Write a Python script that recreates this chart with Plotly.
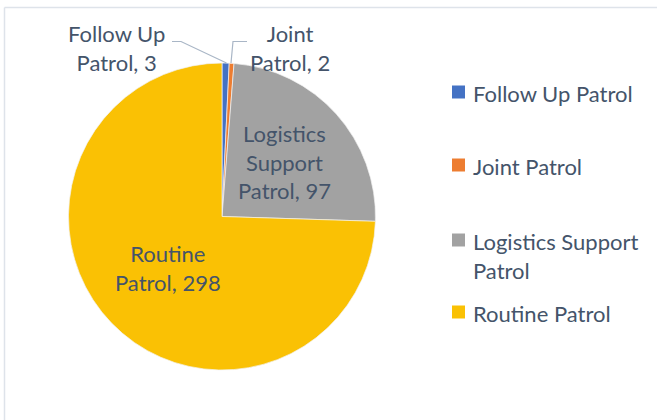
import plotly.graph_objects as go

categories = ["Follow Up Patrol", "Joint Patrol", "Logistics Support Patrol", "Routine Patrol"]
values = [3, 2, 97, 298]
colors = ["#4472C4", "#ED7D31", "#A2A2A2", "#FAC104"]
label_text = ["Follow Up<br>Patrol, 3", "Joint<br>Patrol, 2",
              "Logistics<br>Support<br>Patrol, 97", "Routine<br>Patrol, 298"]
legend_text = ["Follow Up Patrol", "Joint Patrol", "Logistics Support<br>Patrol", "Routine Patrol"]

W, H = 657, 420
def px(x):
    return x / W
def py(y):
    return 1 - y / H

TXT = "#44546A"
FONT = "Lato, Open Sans, sans-serif"
FS = 22

cx, cy, r = 222, 216.5, 153.5

fig = go.Figure(go.Pie(
    labels=categories, values=values, sort=False, direction="clockwise",
    rotation=0, marker=dict(colors=colors, line=dict(color="#F2F2F2", width=0.7)),
    textinfo="none", hoverinfo="label+value", showlegend=False,
    domain=dict(x=[px(cx - r), px(cx + r)], y=[py(cy + r), py(cy - r)]),
))

annotations = []
# data label positions (label layout, px)
label_pos = [(116, 48), (290, 48), (284, 162), (168, 268)]
for t, (x, y) in zip(label_text, label_pos):
    annotations.append(dict(x=px(x), y=py(y), xref="paper", yref="paper", text=t,
                            showarrow=False, xanchor="center", yanchor="middle",
                            font=dict(family=FONT, size=FS, color=TXT), align="center"))

shapes = []
lc = "#A9B6C6"
# leader lines
shapes.append(dict(type="path", xref="paper", yref="paper",
                   path=f"M {px(172)} {py(41.5)} L {px(181)} {py(41.5)} L {px(226.5)} {py(63)}",
                   line=dict(color=lc, width=1.2)))
shapes.append(dict(type="path", xref="paper", yref="paper",
                   path=f"M {px(231)} {py(63)} L {px(233)} {py(41.5)} L {px(247)} {py(41.5)}",
                   line=dict(color=lc, width=1.2)))
# chart border (top and left)
shapes.append(dict(type="line", xref="paper", yref="paper", x0=px(4.5), x1=px(657), y0=py(7.5), y1=py(7.5),
                   line=dict(color="#DEE3EA", width=1.5)))
shapes.append(dict(type="line", xref="paper", yref="paper", x0=px(4.5), x1=px(4.5), y0=py(7.5), y1=py(420),
                   line=dict(color="#DEE3EA", width=1.5)))

# legend
leg_y = [92, 165, 240, 312]
for c, t, y in zip(colors, legend_text, leg_y):
    shapes.append(dict(type="rect", xref="paper", yref="paper",
                       x0=px(452), x1=px(465), y0=py(y + 6.5), y1=py(y - 6.5),
                       fillcolor=c, line=dict(width=0)))
    annotations.append(dict(x=px(471), y=py(y - 14.5), xref="paper", yref="paper", text=t,
                            showarrow=False, xanchor="left", yanchor="top", align="left",
                            font=dict(family=FONT, size=FS, color=TXT)))

fig.update_layout(
    width=W, height=H, margin=dict(l=0, r=0, t=0, b=0),
    paper_bgcolor="white", plot_bgcolor="white",
    annotations=annotations, shapes=shapes, showlegend=False,
)
fig.write_html("out.html", config={"displayModeBar": False},
               post_script="document.body.style.margin='0';document.body.style.padding='0';")
